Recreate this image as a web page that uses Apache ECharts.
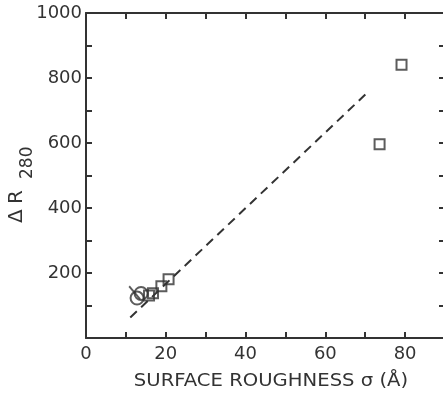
<!DOCTYPE html>
<html>
<head>
<meta charset="utf-8">
<script src="https://cdn.jsdelivr.net/npm/echarts@6/dist/echarts.min.js"></script>
<style>html,body{margin:0;padding:0;background:#fff}#c{width:443px;height:398px}</style>
</head>
<body>
<div id="c"></div>
<script>
var squares = [[15.8,131],[16.8,138],[18.9,159],[20.7,181],[73.6,596],[79.1,841]];
var circles = [[12.8,123],[13.8,137]];
var strokes = [[12.2,139]];
var fitLine = [[11.1,63],[70.7,757]];
var xTicks = [0,20,40,60,80];
var yTicks = [200,400,600,800,1000];

var C = '#333';
var F = 'DejaVu Sans';
var chart = echarts.init(document.getElementById('c'), null, {renderer:'canvas'});
function ax(pos, showLabel, max, interval, labels, margin){
  return {
    type:'value', position:pos, min:0, max:max, interval:interval,
    axisLine:{show:true, onZero:false, lineStyle:{color:C, width:2}},
    axisTick:{show:true, inside:true, length:6, lineStyle:{color:C, width:2}},
    splitLine:{show:false},
    axisLabel:{show:showLabel, color:C, fontFamily:F, fontSize:18, margin:margin,
      formatter:function(v){return labels.indexOf(v)>=0 ? String(v) : '';}}
  };
}
chart.setOption({
  animation:false,
  grid:{left:86, top:13, width:359, height:325, containLabel:false, outerBoundsMode:'none'},
  xAxis:[ax('bottom', true, 90, 10, xTicks, 7), ax('top', false, 90, 10, xTicks, 7)],
  yAxis:[ax('left', true, 1000, 100, yTicks, 4), ax('right', false, 1000, 100, yTicks, 4)],
  graphic:[
    {type:'text', x:271, y:372, scaleX:1.09, style:{text:'SURFACE ROUGHNESS σ (Å)', fill:C, font:'18px "DejaVu Sans"', textAlign:'center', textVerticalAlign:'top'}},
    {type:'text', rotation:Math.PI/2, x:7, y:223, style:{text:'Δ', fill:C, font:'20px "DejaVu Sans"', textAlign:'left', textVerticalAlign:'top'}},
    {type:'text', rotation:Math.PI/2, x:7, y:204, style:{text:'R', fill:C, font:'20px "DejaVu Sans"', textAlign:'left', textVerticalAlign:'top'}},
    {type:'text', rotation:Math.PI/2, x:19, y:179, style:{text:'280', fill:C, font:'17px "DejaVu Sans"', textAlign:'left', textVerticalAlign:'top'}}
  ],
  series:[
    {type:'line', data:fitLine, symbol:'none', lineStyle:{color:C, width:2, type:[9,6]}, z:1},
    {type:'scatter', data:squares, symbol:'rect', symbolSize:10, itemStyle:{color:'rgba(255,255,255,0)', borderColor:C, borderWidth:2}, z:3},
    {type:'scatter', data:circles, symbol:'circle', symbolSize:13, itemStyle:{color:'rgba(255,255,255,0)', borderColor:C, borderWidth:2}, z:3},
    {type:'scatter', data:strokes, symbol:'path://M0,0L10,12', symbolSize:[11,13], itemStyle:{color:'rgba(255,255,255,0)', borderColor:C, borderWidth:2}, z:3}
  ]
});
</script>
</body>
</html>
